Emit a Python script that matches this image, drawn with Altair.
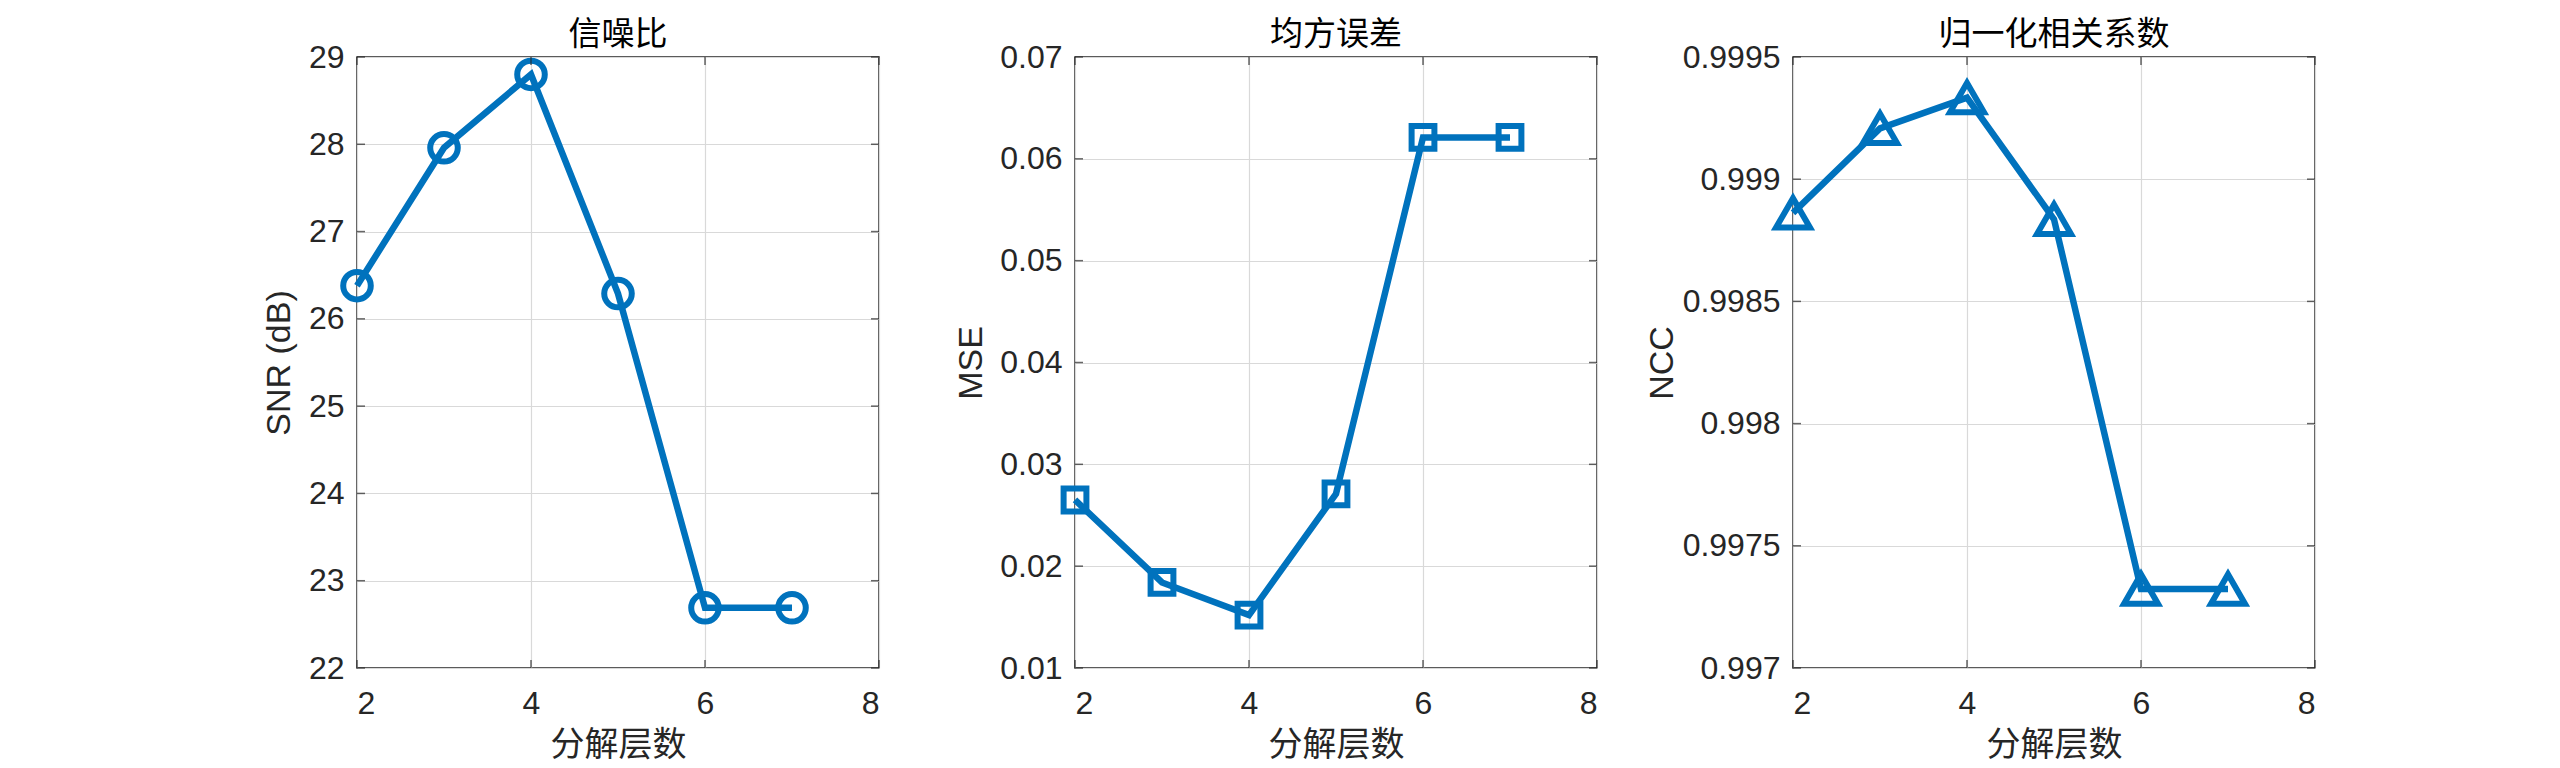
import altair as alt
import pandas as pd

# ---- data ----
LEVELS = [2, 3, 4, 5, 6, 7]
SNR = [26.38, 27.96, 28.80, 26.29, 22.69, 22.69]
MSE = [0.0265, 0.0184, 0.0152, 0.0271, 0.0621, 0.0621]
NCC = [0.998862, 0.999208, 0.999334, 0.998836, 0.997323, 0.997323]

X_TICKS = [2, 4, 6, 8]
SNR_TICKS = [22, 23, 24, 25, 26, 27, 28, 29]
MSE_TICKS = [0.01, 0.02, 0.03, 0.04, 0.05, 0.06, 0.07]
NCC_TICKS = [0.997, 0.9975, 0.998, 0.9985, 0.999, 0.9995]

TITLES = ["信噪比", "均方误差", "归一化相关系数"]
Y_TITLES = ["SNR (dB)", "MSE", "NCC"]
X_TITLE = "分解层数"

BLUE = "#0072BD"
INK = "#262626"
W, H = 522, 611
TICK_LEN = 8


def panel(values, ticks, title, ytitle, shape, size, title_x):
    df = pd.DataFrame({"level": LEVELS, "v": values})
    xdf = pd.DataFrame({"level": X_TICKS})
    ydf = pd.DataFrame({"v": ticks})
    xs = alt.Scale(domain=[X_TICKS[0], X_TICKS[-1]], nice=False)
    ys = alt.Scale(domain=[ticks[0], ticks[-1]], nice=False, zero=False)
    xaxis = alt.Axis(values=X_TICKS, title=X_TITLE, grid=True, ticks=False, domain=False,
                     labelPadding=20, format="d", titleY=77, titleBaseline="middle",
                     titleFont="Noto Sans CJK SC", titleFontSize=34)
    yaxis = alt.Axis(values=ticks, title=ytitle, grid=True, ticks=False, domain=False,
                     labelPadding=13, format="~g", titleX=title_x, titleBaseline="middle")
    base = alt.Chart(df)
    line = base.mark_line(color=BLUE, strokeWidth=6.5).encode(
        x=alt.X("level:Q", scale=xs, axis=xaxis),
        y=alt.Y("v:Q", scale=ys, axis=yaxis),
    )
    pts = base.mark_point(shape=shape, size=size, filled=False, strokeWidth=6,
                          color=BLUE, opacity=1).encode(
        x=alt.X("level:Q", scale=xs), y=alt.Y("v:Q", scale=ys))
    tb = alt.Chart(xdf).mark_tick(orient="vertical", size=TICK_LEN, thickness=1.5, color=INK).encode(
        x=alt.X("level:Q", scale=xs), y=alt.value(H - TICK_LEN / 2))
    tt = alt.Chart(xdf).mark_tick(orient="vertical", size=TICK_LEN, thickness=1.5, color=INK).encode(
        x=alt.X("level:Q", scale=xs), y=alt.value(TICK_LEN / 2))
    tl = alt.Chart(ydf).mark_tick(orient="horizontal", size=TICK_LEN, thickness=1.5, color=INK).encode(
        y=alt.Y("v:Q", scale=ys), x=alt.value(TICK_LEN / 2))
    tr = alt.Chart(ydf).mark_tick(orient="horizontal", size=TICK_LEN, thickness=1.5, color=INK).encode(
        y=alt.Y("v:Q", scale=ys), x=alt.value(W - TICK_LEN / 2))
    return alt.layer(line, pts, tb, tt, tl, tr).properties(
        width=W, height=H,
        title=alt.TitleParams(title, font="Noto Sans CJK SC", fontSize=33,
                              fontWeight="normal", color="#000000", offset=-11),
    )


p1 = panel(SNR, SNR_TICKS, TITLES[0], Y_TITLES[0], "circle", 760, -78)
p2 = panel(MSE, MSE_TICKS, TITLES[1], Y_TITLES[1], "square", 520, -104)
p3 = panel(NCC, NCC_TICKS, TITLES[2], Y_TITLES[2], "triangle-up", 1150, -131)

chart = alt.hconcat(p1, p2, p3, spacing=196, bounds="flush").properties(
    padding={"left": 253, "top": 10, "right": 5, "bottom": 5}
).configure_view(
    stroke=INK, strokeWidth=1.5
).configure_axis(
    labelFont="Liberation Sans", labelFontSize=32, labelColor=INK,
    titleFont="Liberation Sans", titleFontSize=34, titleColor=INK, titleFontWeight="normal",
    gridColor="#d9d9d9", gridWidth=1.2,
)

chart.save("out.html", embed_options={"renderer": "svg", "actions": False})
